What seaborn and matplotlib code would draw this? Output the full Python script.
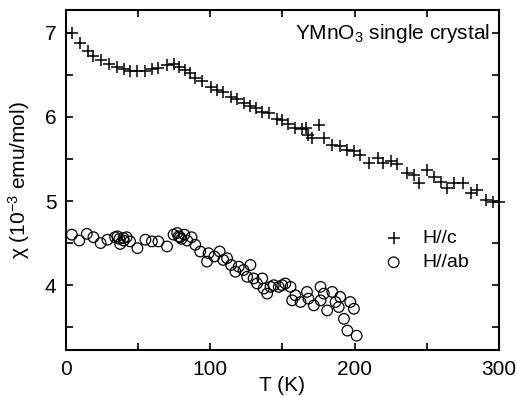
import numpy as np
import pandas as pd
import matplotlib
matplotlib.use("Agg")
import matplotlib.pyplot as plt
from matplotlib.ticker import MultipleLocator
import seaborn as sns

# H//c data (plus markers)
T_c = [4, 10, 15.5, 19, 24, 30, 35, 40, 44.4, 49.5, 55, 59.5, 64, 70, 74.5, 78,
       82.6, 86, 89.6, 94, 100.5, 104.6, 109, 114, 118.5, 123, 127.8, 132, 136,
       140.5, 146, 150, 154, 159, 163.7, 166, 168, 170.6, 175, 178.7, 184.5, 190,
       195, 199.5, 204, 210, 216, 220, 225, 229.6, 236.6, 241, 244.7, 250.5, 255,
       259.7, 264, 269, 274.8, 280.5, 285, 291, 295.6, 300]
chi_c = [7.0, 6.88, 6.78, 6.72, 6.67, 6.63, 6.59, 6.57, 6.55, 6.55, 6.55, 6.57,
         6.58, 6.62, 6.63, 6.59, 6.56, 6.52, 6.46, 6.42, 6.35, 6.32, 6.29, 6.23,
         6.21, 6.17, 6.13, 6.10, 6.06, 6.04, 5.98, 5.96, 5.92, 5.87, 5.85, 5.87,
         5.79, 5.75, 5.90, 5.75, 5.67, 5.65, 5.61, 5.59, 5.55, 5.45, 5.51, 5.45,
         5.47, 5.44, 5.33, 5.31, 5.21, 5.37, 5.29, 5.23, 5.15, 5.21, 5.21, 5.09,
         5.13, 5.01, 4.99, 4.99]

# H//ab data (open circles)
T_ab = [4, 9.2, 14.4, 19, 24, 28.7, 34, 35.6, 37, 37.5, 39.8, 40, 42, 44.4, 49.5,
        55, 59.5, 64, 70, 74.5, 77, 78, 79, 80, 82, 84, 87, 89.6, 93, 97.7, 98.8,
        102.8, 106.5, 109, 111.6, 114.4, 117.4, 119.7, 123, 125.5, 127.8, 130,
        132.4, 136, 137, 139.4, 141.7, 144, 147.4, 149.8, 152, 155.6, 156.7, 159,
        162.5, 167, 168, 171.7, 176.4, 176.4, 178.7, 181, 184.5, 186.8, 189, 190,
        192.6, 195, 197, 199.5, 201.4]
chi_ab = [4.60, 4.53, 4.61, 4.57, 4.50, 4.54, 4.57, 4.58, 4.55, 4.49, 4.56, 4.53,
          4.57, 4.52, 4.44, 4.54, 4.52, 4.52, 4.46, 4.60, 4.62, 4.58, 4.57, 4.55,
          4.60, 4.53, 4.57, 4.48, 4.40, 4.28, 4.38, 4.34, 4.40, 4.30, 4.32, 4.24,
          4.16, 4.22, 4.18, 4.10, 4.24, 4.08, 4.02, 4.08, 3.96, 3.90, 3.98, 4.00,
          3.98, 4.00, 4.02, 3.98, 3.82, 3.88, 3.80, 3.92, 3.84, 3.76, 3.98, 3.82,
          3.90, 3.70, 3.92, 3.80, 3.74, 3.86, 3.60, 3.46, 3.80, 3.72, 3.40]

df_c = pd.DataFrame({"T": T_c, "chi": chi_c})
df_ab = pd.DataFrame({"T": T_ab, "chi": chi_ab})

sns.set_style("ticks", {"axes.edgecolor": "black", "text.color": "black",
                        "axes.labelcolor": "black", "xtick.color": "black",
                        "ytick.color": "black"})
plt.rcParams["font.family"] = ["Liberation Sans", "DejaVu Sans"]
plt.rcParams["mathtext.fontset"] = "custom"
plt.rcParams["mathtext.rm"] = "Liberation Sans"
plt.rcParams["mathtext.it"] = "Liberation Sans"

fig = plt.figure(figsize=(5.17, 3.97), dpi=100)
ax = fig.add_axes([0.1277, 0.1184, 0.8373, 0.8566])

sns.scatterplot(data=df_c, x="T", y="chi", marker="+", s=70, color="black",
                linewidth=1.1, ax=ax, label="H//c", clip_on=False, zorder=3)
sns.scatterplot(data=df_ab, x="T", y="chi", marker="o", s=58, facecolor="none",
                edgecolor="black", linewidth=0.9, ax=ax, label="H//ab",
                clip_on=False, zorder=3)

ax.set_xlim(0, 300)
ax.set_ylim(3.23, 7.27)
ax.xaxis.set_major_locator(MultipleLocator(100))
ax.xaxis.set_minor_locator(MultipleLocator(50))
ax.yaxis.set_major_locator(MultipleLocator(1))
ax.yaxis.set_minor_locator(MultipleLocator(0.5))
ax.tick_params(which="both", direction="in", top=True, right=True,
               length=5, width=1.2, labelsize=15, pad=7, colors="black")
for sp in ax.spines.values():
    sp.set_linewidth(1.5)
    sp.set_color("black")

ax.set_xlabel("T (K)", fontsize=15, labelpad=-2, color="black")
ax.set_ylabel("\u03c7 (10$^{-3}$ emu/mol)", fontsize=15, labelpad=9, color="black")

ax.text(0.979, 0.932, "YMnO$_3$ single crystal", transform=ax.transAxes,
        ha="right", va="center", fontsize=15, color="black")

leg = ax.legend(loc="center left", bbox_to_anchor=(0.712, 0.293), frameon=False,
                fontsize=14, handlelength=1.2, handletextpad=0.9,
                labelspacing=0.35, borderaxespad=0)
for t in leg.get_texts():
    t.set_color("black")

fig.savefig("out.png", dpi=100)
